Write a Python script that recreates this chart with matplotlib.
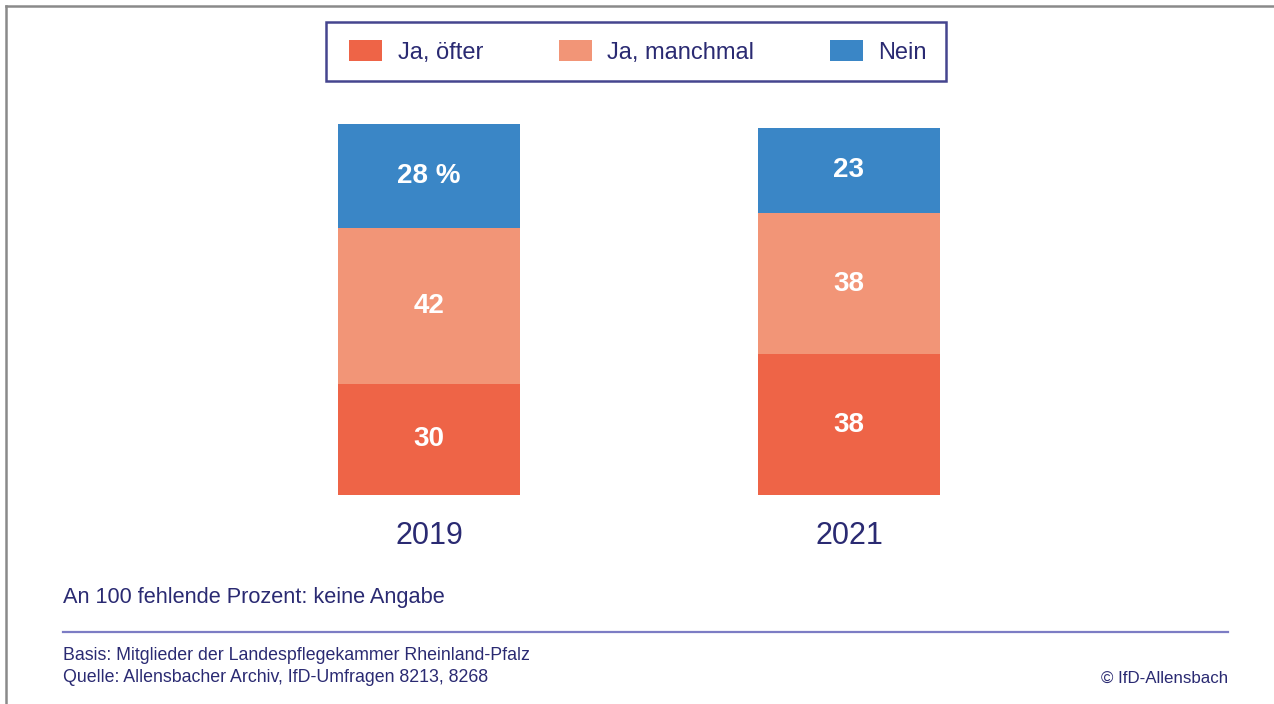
import matplotlib.pyplot as plt
import matplotlib.lines as mlines
import matplotlib.patches as mpatches
import numpy as np

plt.rcParams['font.family'] = ['Liberation Sans', 'DejaVu Sans']

# data
years = ['2019', '2021']
series_names = ['Ja, öfter', 'Ja, manchmal', 'Nein']
ja_oefter = [30, 38]
ja_manchmal = [42, 38]
nein = [28, 23]
top_labels = ['28 %', '23']

colors = ['#EE6447', '#F29577', '#3A86C6']
navy = '#2A2A72'
line_col = '#7C7CC4'

W, H = 1274, 704
fig = plt.figure(figsize=(W / 100, H / 100), dpi=100)
ax = fig.add_axes([219 / W, 1 - 495 / H, 840 / W, 371 / H])

x = np.arange(len(years))
width = 0.433
series = [ja_oefter, ja_manchmal, nein]
bottom = np.zeros(len(years))
handles = []
for i, vals in enumerate(series):
    bars = ax.bar(x, vals, width, bottom=bottom, color=colors[i],
                  label=series_names[i], linewidth=0)
    handles.append(bars)
    if i == len(series) - 1:
        labels = top_labels
    else:
        labels = [str(v) for v in vals]
    for xi, b, v, lab in zip(x, bottom, vals, labels):
        ax.text(xi, b + v / 2, lab, ha='center', va='center',
                color='white', fontsize=20, fontweight='bold')
    bottom = bottom + np.array(vals)

ax.set_xlim(-0.5, 1.5)
ax.set_ylim(0, 100)
ax.set_xticks(x)
ax.set_xticklabels(years, fontsize=22, color=navy)
ax.tick_params(axis='x', length=0, pad=19)
ax.set_yticks([])
for s in ax.spines.values():
    s.set_visible(False)

# legend (frame drawn separately so it can be wider than it is tall)
leg = fig.legend(handles=handles, labels=series_names, ncol=3,
                 loc='center', bbox_to_anchor=(638 / W, 1 - 52 / H),
                 fontsize=17, frameon=False,
                 handlelength=1.4, handleheight=0.95, handletextpad=0.65,
                 columnspacing=3.2)
for t in leg.get_texts():
    t.set_color(navy)
fig.add_artist(mpatches.Rectangle((326 / W, 1 - 81 / H), 620 / W, 59 / H,
                                  transform=fig.transFigure, fill=False,
                                  edgecolor='#45458F', linewidth=1.8))

fig.text(63 / W, 1 - 597 / H, 'An 100 fehlende Prozent: keine Angabe',
         fontsize=15.7, color=navy, va='center', ha='left')
fig.add_artist(mlines.Line2D([63 / W, 1228 / W], [1 - 632 / H, 1 - 632 / H],
                             color=line_col, linewidth=1.6))
fig.text(63 / W, 1 - 655 / H, 'Basis: Mitglieder der Landespflegekammer Rheinland-Pfalz',
         fontsize=12.8, color=navy, va='center', ha='left')
fig.text(63 / W, 1 - 678 / H, 'Quelle: Allensbacher Archiv, IfD-Umfragen 8213, 8268',
         fontsize=12.8, color=navy, va='center', ha='left')
fig.text(1228 / W, 1 - 678 / H, '© IfD-Allensbach',
         fontsize=12.2, color=navy, va='center', ha='right')

# grey frame at top and left
fig.add_artist(mlines.Line2D([6 / W, 1], [1 - 6 / H, 1 - 6 / H], color='#8A8A8A', linewidth=1.8))
fig.add_artist(mlines.Line2D([6 / W, 6 / W], [0, 1 - 6 / H], color='#8A8A8A', linewidth=1.8))

fig.savefig('out.png', dpi=100)
